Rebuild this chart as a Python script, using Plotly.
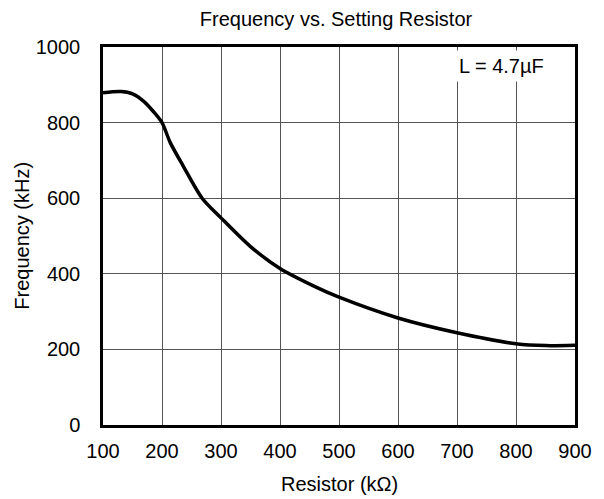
import plotly.graph_objects as go

resistor_kohm = [100, 130, 150, 170, 185, 200, 214, 236, 268, 300, 350, 400, 462, 500, 600, 700, 800, 850, 900]
frequency_khz = [879, 882, 876, 855, 830, 800, 747, 685, 600, 548, 472, 414, 364, 338, 283, 244, 215, 210, 211]
x_ticks = [100, 200, 300, 400, 500, 600, 700, 800, 900]
y_ticks = [0, 200, 400, 600, 800, 1000]

FONT = "Liberation Sans, Arial, sans-serif"
# the page body has an 8px margin, so the figure is drawn 8px in from the window corner
OFF = 8
W, H = 604 - OFF, 499 - OFF
L, R, T, B = 103 - OFF, 29, 47 - OFF, 74
PW, PH = W - L - R, H - T - B

fig = go.Figure()
fig.add_trace(go.Scatter(
    x=resistor_kohm, y=frequency_khz, mode="lines",
    line=dict(color="black", width=3.5, shape="spline", smoothing=0.8),
    showlegend=False, hoverinfo="skip",
))

fig.update_layout(
    width=W, height=H,
    margin=dict(l=L, r=R, t=T, b=B, autoexpand=False),
    paper_bgcolor="white", plot_bgcolor="white",
    font=dict(family=FONT, size=20, color="black"),
    title=dict(text="Frequency vs. Setting Resistor", x=(L + PW / 2 - 3) / W, xanchor="center",
               y=1 - (19 - OFF) / H, yanchor="middle", font=dict(family=FONT, size=20, color="black")),
    xaxis=dict(range=[100, 900], tickvals=x_ticks, showgrid=True, gridcolor="#555", gridwidth=1,
               showline=True, linecolor="black", linewidth=2.5, mirror=True, zeroline=False,
               ticks="", ticklabelstandoff=6, automargin=False,
               tickfont=dict(size=20)),
    yaxis=dict(range=[0, 1000], tickvals=y_ticks, showgrid=True, gridcolor="#555", gridwidth=1,
               showline=True, linecolor="black", linewidth=2.5, mirror=True, zeroline=False,
               ticks="", ticklabelstandoff=16, automargin=False,
               tickfont=dict(size=20)),
    annotations=[
        dict(x=775, y=949, xref="x", yref="y", text="L = 4.7µF", showarrow=False,
             bgcolor="white", font=dict(size=20, color="black"), borderpad=4),
        dict(x=0.5, y=-(484 - OFF - (T + PH)) / PH, xref="paper", yref="paper", text="Resistor (kΩ)",
             showarrow=False, xanchor="center", yanchor="middle", font=dict(size=20, color="black")),
        dict(x=(21.7 - OFF - L) / PW, y=0.5, xref="paper", yref="paper", text="Frequency (kHz)",
             showarrow=False, xanchor="center", yanchor="middle", textangle=-90,
             font=dict(size=20, color="black")),
    ],
)

fig.write_html("out.html")
